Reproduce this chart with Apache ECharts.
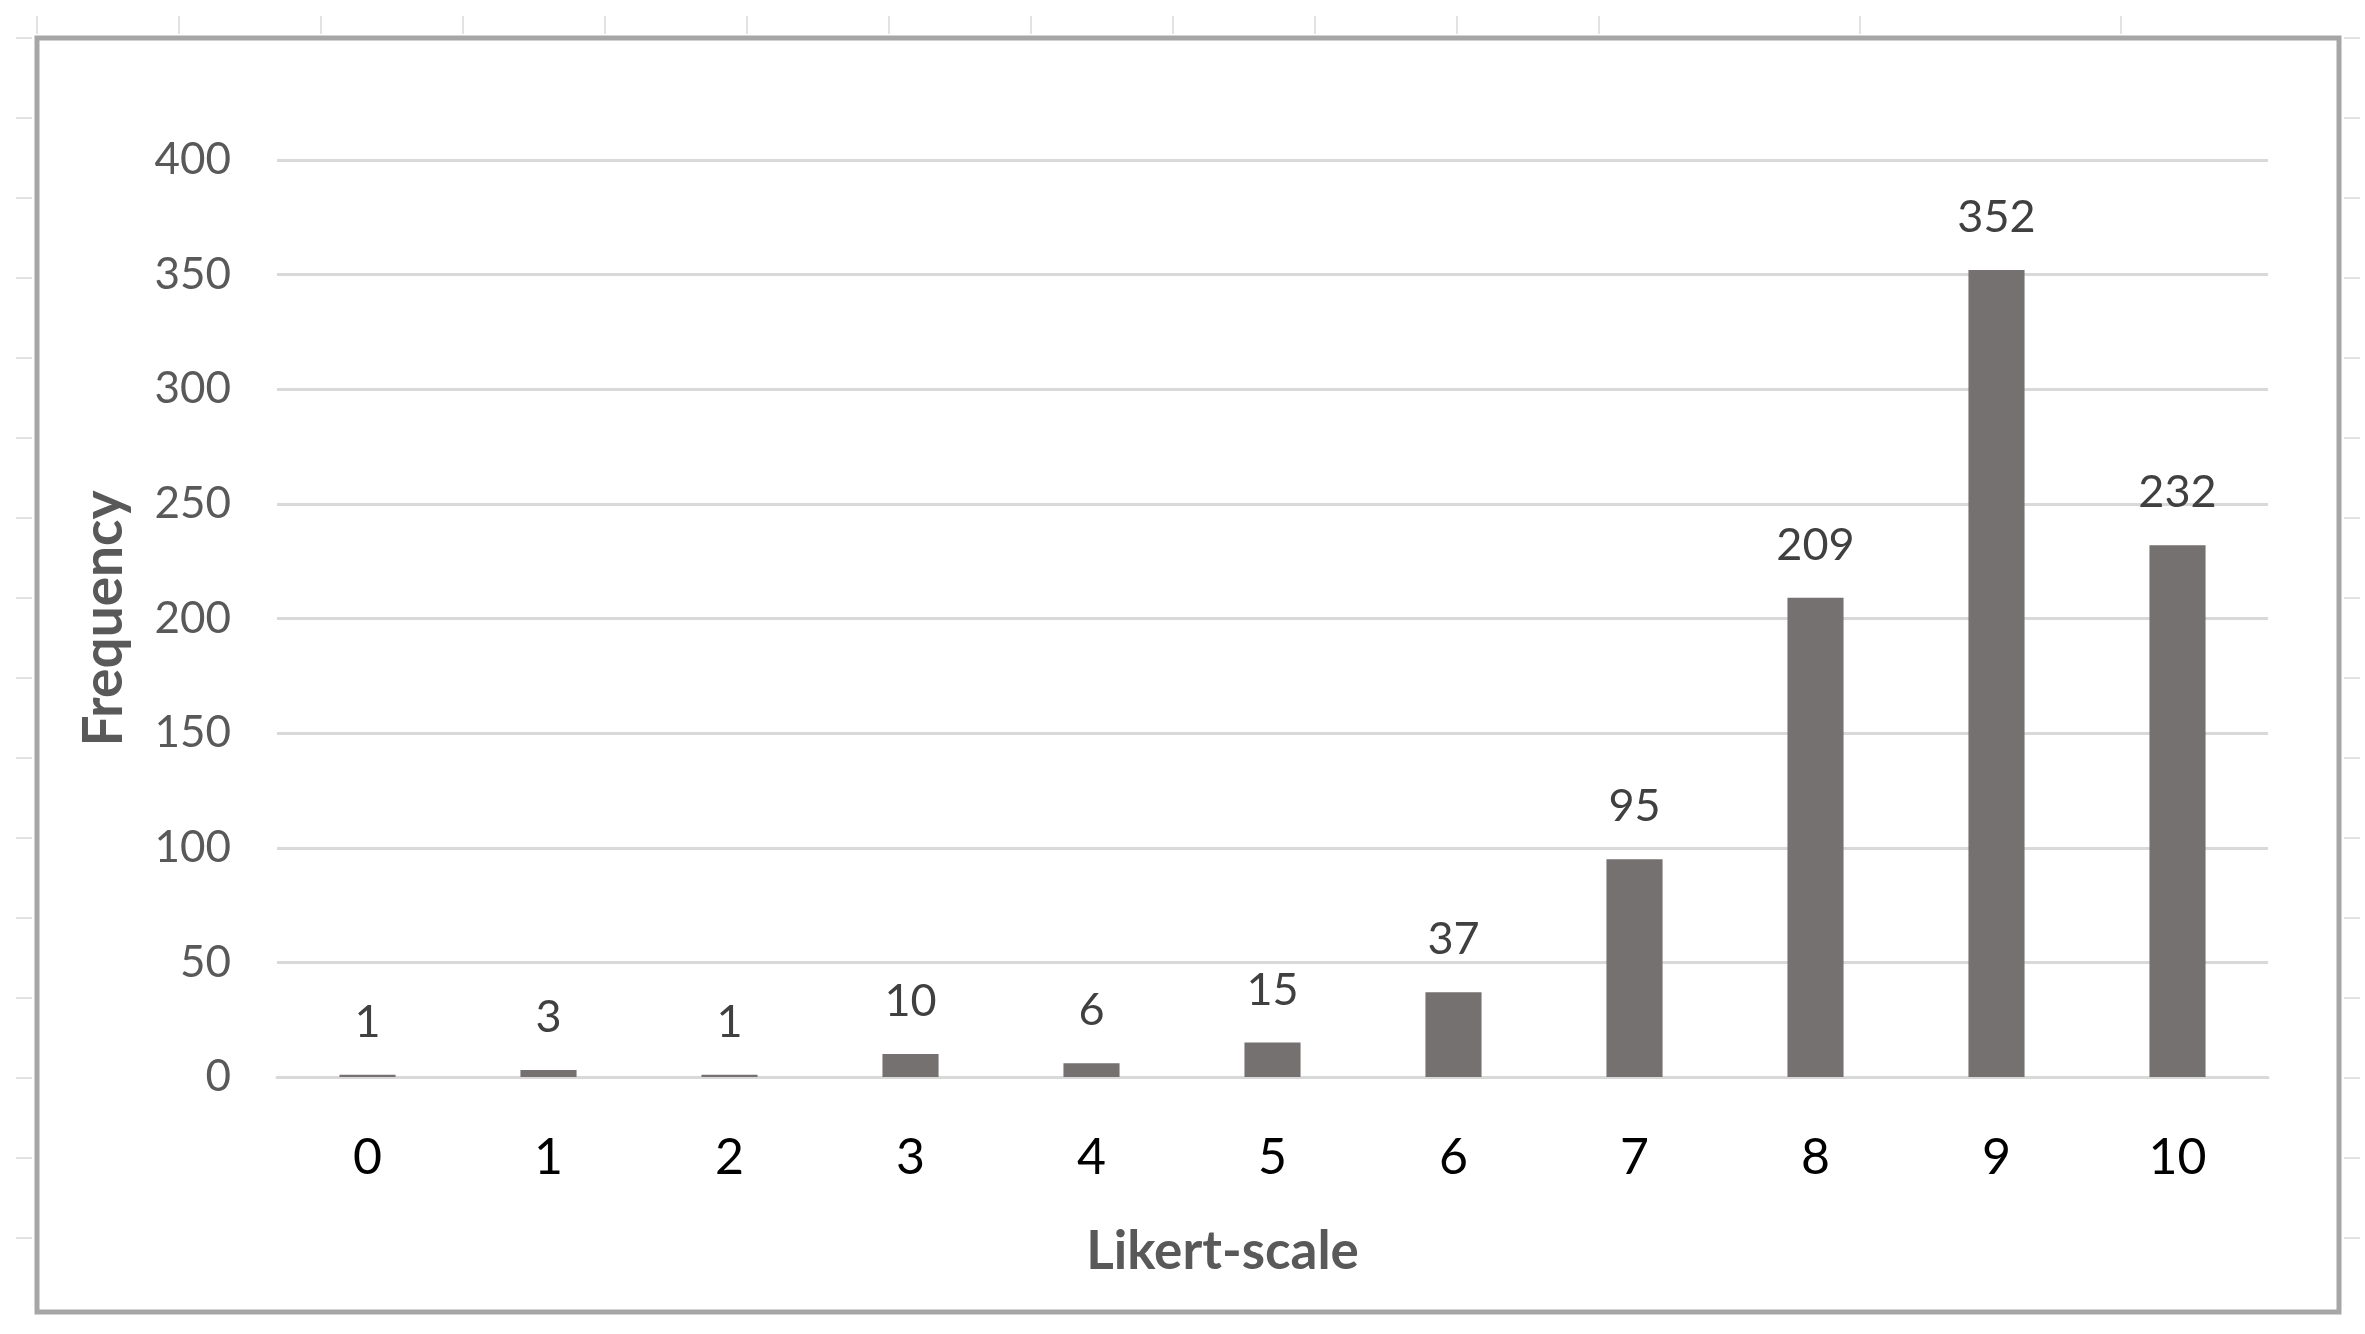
<!DOCTYPE html>
<html>
<head>
<meta charset="utf-8">
<style>
  html, body { margin: 0; padding: 0; background: #fff; }
  #main { width: 2365px; height: 1334px; }
</style>
<script src="https://cdn.jsdelivr.net/npm/echarts@6/dist/echarts.min.js"></script>
</head>
<body>
<div id="main"></div>
<script>
// Likert-scale answers (0..10) and how often each was given
var likertScores = ['0', '1', '2', '3', '4', '5', '6', '7', '8', '9', '10'];
var frequencies = [1, 3, 1, 10, 6, 15, 37, 95, 209, 352, 232];

var myChart = echarts.init(document.getElementById('main'));

// faint cell-border ticks round the frame (spreadsheet leftovers)
var deco = [];
function tick(x1, y1, x2, y2) {
    deco.push({
        type: 'line', silent: true,
        shape: { x1: x1, y1: y1, x2: x2, y2: y2 },
        style: { stroke: '#e2e2e2', lineWidth: 2 }
    });
}
for (var i = 0; i < 12; i++) {
    tick(37 + i * 142, 16, 37 + i * 142, 34);
}
tick(1860, 16, 1860, 34);
tick(2121, 16, 2121, 34);
for (var j = 0; j < 16; j++) {
    tick(16, 38 + j * 80, 32, 38 + j * 80);
    tick(2344, 38 + j * 80, 2360, 38 + j * 80);
}
// chart border
deco.push({
    type: 'rect', silent: true,
    shape: { x: 37, y: 38, width: 2302, height: 1274 },
    style: { fill: 'none', stroke: '#a6a6a6', lineWidth: 5 }
});

var option = {
    animation: false,
    backgroundColor: '#fff',
    textStyle: { fontFamily: 'Lato' },
    graphic: deco,
    grid: {
        left: 277,
        right: 97,
        top: 160,
        bottom: 257
    },
    xAxis: {
        type: 'category',
        data: likertScores,
        name: 'Likert-scale',
        nameLocation: 'middle',
        nameGap: 148,
        nameTextStyle: {
            color: '#595959',
            fontSize: 53,
            fontWeight: 'bold',
            fontFamily: 'Lato',
            padding: [0, 100, 0, 0]
        },
        axisLine: { show: true, lineStyle: { color: '#d9d9d9', width: 3 } },
        axisTick: { show: false },
        axisLabel: {
            color: '#000',
            fontSize: 50,
            fontFamily: 'Lato',
            margin: 56
        }
    },
    yAxis: {
        type: 'value',
        min: 0,
        max: 400,
        interval: 50,
        name: 'Frequency',
        nameLocation: 'middle',
        nameRotate: 90,
        nameGap: 145,
        nameTextStyle: {
            color: '#595959',
            fontSize: 55,
            fontWeight: 'bold',
            fontFamily: 'Lato'
        },
        axisLine: { show: false },
        axisTick: { show: false },
        axisLabel: {
            color: '#595959',
            fontSize: 44,
            fontFamily: 'Lato',
            margin: 46
        },
        splitLine: { lineStyle: { color: '#d9d9d9', width: 3 } }
    },
    series: [{
        name: 'Frequency',
        type: 'bar',
        data: frequencies,
        barWidth: '31%',
        itemStyle: { color: '#767171' },
        label: {
            show: true,
            position: 'top',
            distance: 30,
            color: '#404040',
            fontSize: 45,
            fontFamily: 'Lato'
        }
    }]
};
myChart.setOption(option);
</script>
</body>
</html>
